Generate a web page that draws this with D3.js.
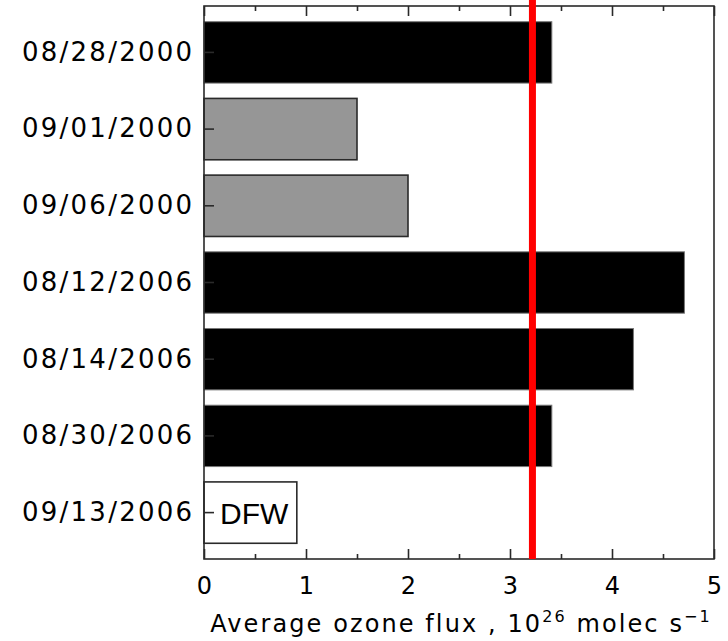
<!DOCTYPE html>
<html>
<head>
<meta charset="utf-8">
<script src="https://cdn.jsdelivr.net/npm/d3@7"></script>
<style>
  html, body { margin: 0; padding: 0; background: #fff; }
  svg { display: block; }
  .lbl { font-family: "DejaVu Sans", sans-serif; fill: #000; }
</style>
</head>
<body>
<svg id="chart" width="728" height="641"></svg>
<script>
// Flight dates (one bar each), top to bottom
const dates = ["08/28/2000", "09/01/2000", "09/06/2000", "08/12/2006",
               "08/14/2006", "08/30/2006", "09/13/2006"];
// Average ozone flux, 10^26 molec s^-1
const flux = [3.41, 1.50, 2.00, 4.71, 4.21, 3.41, 0.91];
// Bar group for each date
const groups = ["main", "alt", "alt", "main", "main", "main", "site"];
// Text drawn inside a bar ("" for none)
const barText = ["", "", "", "", "", "", "DFW"];
// Reference flux marked by the vertical line
const referenceFlux = [3.22];
// X axis ticks
const xTicks = [0, 1, 2, 3, 4, 5];
const xMinorTicks = [0.5, 1.5, 2.5, 3.5, 4.5];

const svg = d3.select("#chart");
const plot = { left: 204, right: 714, top: 6, bottom: 559 };

const x = d3.scaleLinear().domain([0, 5]).range([plot.left, plot.right]);
const y = d3.scaleBand().domain(dates).range([plot.top, plot.bottom])
  .paddingInner(0.2).paddingOuter(0.205);

const fillOf = d3.scaleOrdinal().domain(["main", "alt", "site"])
  .range(["#000000", "#969696", "#ffffff"]);
const strokeOf = d3.scaleOrdinal().domain(["main", "alt", "site"])
  .range(["#777777", "#2a2a2a", "#2a2a2a"]);

const rows = dates.map((d, i) => ({ date: d, v: flux[i], g: groups[i], t: barText[i] }));

// Bars
svg.append("g").selectAll("rect").data(rows).join("rect")
  .attr("x", x(0))
  .attr("y", d => y(d.date))
  .attr("width", d => x(d.v) - x(0))
  .attr("height", y.bandwidth())
  .attr("fill", d => fillOf(d.g))
  .attr("stroke", d => strokeOf(d.g))
  .attr("stroke-width", d => d.g === "main" ? 1 : 1.6);

// Text inside bars
svg.append("g").selectAll("text").data(rows.filter(d => d.t)).join("text")
  .attr("x", x(0) + 16)
  .attr("y", d => y(d.date) + y.bandwidth() / 2 + 11)
  .attr("font-family", "'Liberation Sans', Arial, sans-serif")
  .attr("font-size", 30)
  .text(d => d.t);

// Frame
const axisColor = "#2a2a2a";
svg.append("rect")
  .attr("x", plot.left).attr("y", plot.top)
  .attr("width", plot.right - plot.left).attr("height", plot.bottom - plot.top)
  .attr("fill", "none").attr("stroke", axisColor).attr("stroke-width", 1.6);

// Bottom axis: inward ticks + labels
const bottom = svg.append("g").attr("transform", `translate(0,${plot.bottom})`)
  .call(d3.axisBottom(x).tickValues(xTicks).tickSize(-10).tickPadding(18)
    .tickFormat(d3.format("d")));
bottom.select(".domain").remove();
bottom.selectAll(".tick line").attr("stroke", axisColor).attr("stroke-width", 1.6);
bottom.selectAll(".tick text").attr("class", "lbl").attr("font-size", 24)
  .attr("dy", "0.71em");
svg.append("g").attr("transform", `translate(0,${plot.bottom})`)
  .call(d3.axisBottom(x).tickValues(xMinorTicks).tickSize(-5).tickFormat(""))
  .call(g => g.select(".domain").remove())
  .selectAll(".tick line").attr("stroke", axisColor).attr("stroke-width", 1.6);

// Top axis: inward ticks, no labels
svg.append("g").attr("transform", `translate(0,${plot.top})`)
  .call(d3.axisTop(x).tickValues(xTicks).tickSize(-10).tickFormat(""))
  .call(g => g.select(".domain").remove())
  .selectAll(".tick line").attr("stroke", axisColor).attr("stroke-width", 1.6);
svg.append("g").attr("transform", `translate(0,${plot.top})`)
  .call(d3.axisTop(x).tickValues(xMinorTicks).tickSize(-5).tickFormat(""))
  .call(g => g.select(".domain").remove())
  .selectAll(".tick line").attr("stroke", axisColor).attr("stroke-width", 1.6);

// Left axis: inward ticks + date labels
const left = svg.append("g").attr("transform", `translate(${plot.left},0)`)
  .call(d3.axisLeft(y).tickSize(-10).tickPadding(12));
left.select(".domain").remove();
left.selectAll(".tick line").attr("stroke", axisColor).attr("stroke-width", 1.6);
left.selectAll(".tick text").attr("class", "lbl").attr("font-size", 26)
  .attr("textLength", 170).attr("lengthAdjust", "spacing");

// Reference line
svg.append("g").selectAll("line").data(referenceFlux).join("line")
  .attr("x1", d => x(d)).attr("x2", d => x(d))
  .attr("y1", 0).attr("y2", plot.bottom)
  .attr("stroke", "#ff0000").attr("stroke-width", 7);

// Axis title
const title = svg.append("text").attr("class", "lbl")
  .attr("x", (plot.left + plot.right) / 2 + 2).attr("y", 632)
  .attr("text-anchor", "middle").attr("font-size", 24)
  .attr("letter-spacing", 2.1);
title.append("tspan").text("Average ozone flux , 10");
title.append("tspan").attr("dy", -10).attr("font-size", 16).text("26");
title.append("tspan").attr("dy", 10).text(" molec s");
title.append("tspan").attr("dy", -10).attr("font-size", 16).text("\u22121");
</script>
</body>
</html>
